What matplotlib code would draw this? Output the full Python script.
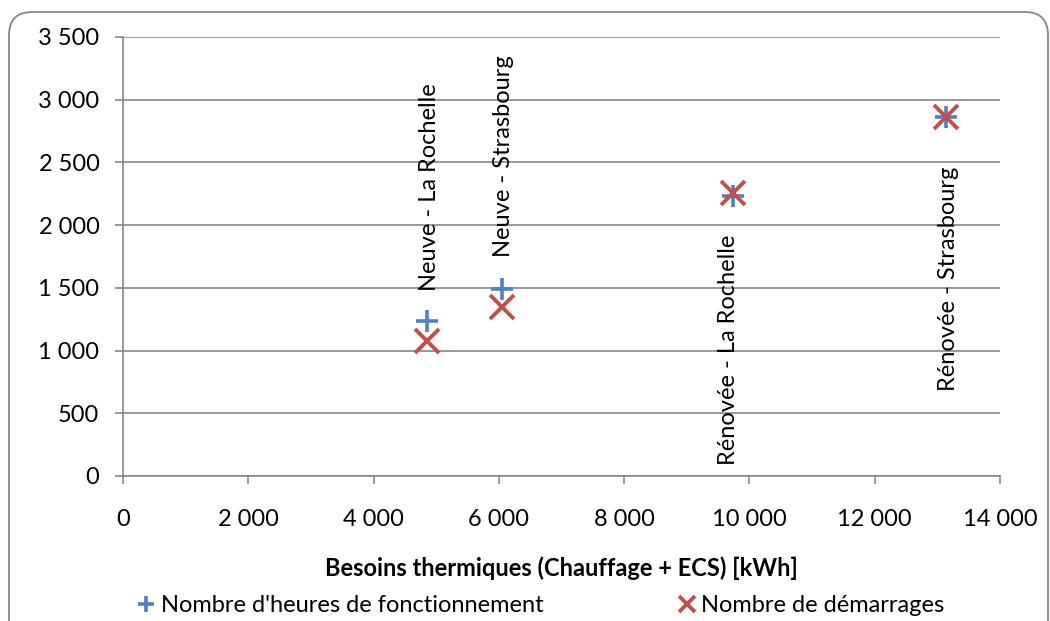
import numpy as np
import matplotlib.pyplot as plt
from matplotlib.patches import FancyBboxPatch
from matplotlib.ticker import FuncFormatter

plt.rcParams["font.family"] = ["Lato", "DejaVu Sans"]
plt.rcParams.update({'font.size': 17})

# data
cases = ['Neuve - La Rochelle', 'Neuve - Strasbourg',
         'Rénovée - La Rochelle', 'Rénovée - Strasbourg']
besoins = [4850, 6050, 9730, 13140]
heures = [1235, 1490, 2235, 2865]
demarrages = [1075, 1350, 2255, 2865]

# label placement (offset in pixels from the point, vertical alignment)
label_dx = [3, 2, -4, 2]
label_dy = [30, 32, -39, -50]
label_va = ['bottom', 'bottom', 'top', 'top']

blue = '#4F81BD'
red = '#C0504D'
grey = '#868686'

fig = plt.figure(figsize=(10.5, 6.21), dpi=100)
ax = fig.add_axes([123/1050, 1 - 476/621, 877/1050, 439/621])

ax.plot(besoins, heures, ls='none', marker='+', ms=16.5, mew=2.6, color=blue,
        label="Nombre d'heures de fonctionnement", zorder=3)
ax.plot(besoins, demarrages, ls='none', marker='x', ms=17, mew=2.8, color=red,
        label='Nombre de démarrages', zorder=3)

for name, x, y, dx, dy, va in zip(cases, besoins, heures, label_dx, label_dy, label_va):
    ax.annotate(name, xy=(x, y), xytext=(dx*0.72, dy*0.72), textcoords='offset points',
                rotation=90, ha='center', va=va, fontsize=17, zorder=4)

ax.set_xlim(0, 14000)
ax.set_ylim(0, 3500)
ax.set_xticks(np.arange(0, 14001, 2000))
ax.set_yticks(np.arange(0, 3501, 500))
fmt = FuncFormatter(lambda v, p: f'{int(v):,}'.replace(',', ' '))
ax.xaxis.set_major_formatter(fmt)
ax.yaxis.set_major_formatter(fmt)
ax.grid(axis='y', color=grey, lw=1.2)
ax.set_axisbelow(True)
for s in ['top', 'right']:
    ax.spines[s].set_visible(False)
for s in ['left', 'bottom']:
    ax.spines[s].set_color(grey)
    ax.spines[s].set_linewidth(1.2)
ax.tick_params(axis='both', color=grey, length=6, width=1.2, labelsize=17)
ax.tick_params(axis='x', pad=18)
ax.tick_params(axis='y', pad=11)

ax.set_xlabel('Besoins thermiques (Chauffage + ECS) [kWh]', fontweight='bold',
              fontsize=17, labelpad=19)

fig.legend(loc='center', bbox_to_anchor=(542/1050, 1 - 606/621), ncol=2, frameon=False,
           handlelength=0.6, handletextpad=0.3, columnspacing=5.8, fontsize=17,
           markerscale=0.7)

border = FancyBboxPatch((9/1050, -0.1), 1039/1050, 1 - 12/621 + 0.1,
                        boxstyle='round,pad=0,rounding_size=0.022',
                        transform=fig.transFigure, fill=False, ec=grey, lw=1.3,
                        mutation_aspect=1050/621)
fig.patches.append(border)

fig.savefig('out.png', dpi=100)
